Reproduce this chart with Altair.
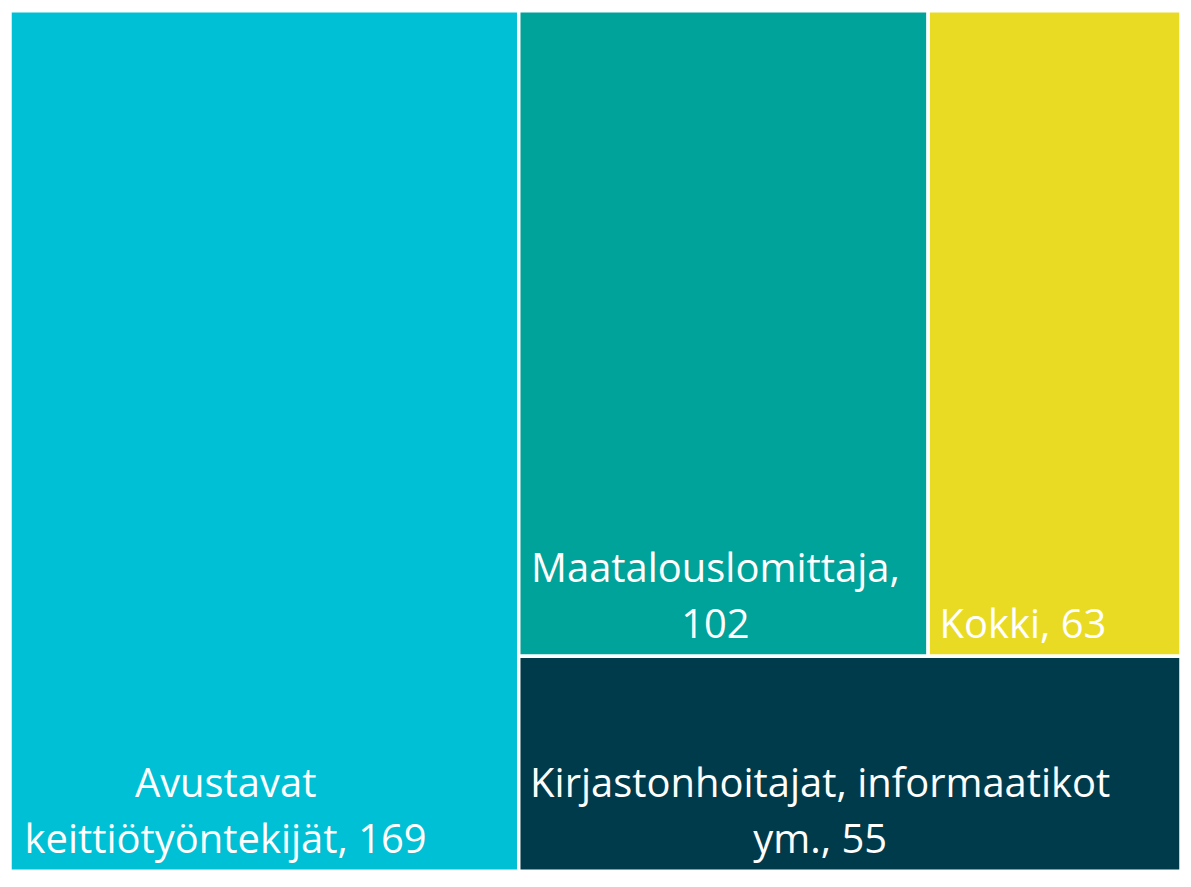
import altair as alt
import pandas as pd

# ---- data ----
names = ["Avustavat keittiötyöntekijät", "Maatalouslomittaja", "Kokki", "Kirjastonhoitajat, informaatikot ym."]
values = [169, 102, 63, 55]
label_lines = [
    ["Avustavat", "keittiötyöntekijät, 169"],
    ["Maatalouslomittaja,", "102"],
    ["Kokki, 63"],
    ["Kirjastonhoitajat, informaatikot", "ym., 55"],
]
colors = ["#00C0D5", "#00A39A", "#E9DB23", "#003B4B"]

# ---- layout params ----
W, H = 1173, 862
FS = 40
LH = 56
PAD = 10
BOTTOM_PAD = 18

# treemap layout (first item takes a full-height column, the rest in rows)
total = sum(values)
rest = sum(values[1:])
x_left = values[0] / total
top_sum = values[1] + values[2]
y_split = values[3] / rest
x_mid = x_left + (1 - x_left) * values[1] / top_sum
rects = [
    (0.0, x_left, 0.0, 1.0),
    (x_left, x_mid, y_split, 1.0),
    (x_mid, 1.0, y_split, 1.0),
    (x_left, 1.0, 0.0, y_split),
]


def est_width(s, fs):
    w = 0.0
    for ch in s:
        if ch in "ijl.,;:' ":
            w += 0.26
        elif ch in "rtf":
            w += 0.38
        elif ch in "mw":
            w += 0.88
        elif ch in "MW":
            w += 0.9
        elif ch.isupper():
            w += 0.62
        else:
            w += 0.57
    return w * fs


rows = []
for i, n in enumerate(names):
    x0, x1, y0, y1 = rects[i]
    lines = label_lines[i]
    bw = max(est_width(l, FS) for l in lines)
    tx = x0 + (PAD + bw / 2) / W
    ty = y0 + (BOTTOM_PAD + (len(lines) - 1) * LH) / H
    rows.append(dict(name=n, value=values[i], x0=x0, x1=x1, y0=y0, y1=y1,
                     tx=tx, ty=ty, label="\n".join(lines)))
df = pd.DataFrame(rows)

xs = alt.Scale(domain=[0, 1], nice=False, zero=False)
ys = alt.Scale(domain=[0, 1], nice=False, zero=False)
col = alt.Scale(domain=names, range=colors)

rect = alt.Chart(df).mark_rect(stroke="white", strokeWidth=3.5).encode(
    x=alt.X("x0:Q", scale=xs, axis=None),
    x2="x1:Q",
    y=alt.Y("y0:Q", scale=ys, axis=None),
    y2="y1:Q",
    color=alt.Color("name:N", scale=col, legend=None),
    tooltip=["name:N", "value:Q"],
)

text = alt.Chart(df).mark_text(
    align="center", baseline="alphabetic", lineBreak="\n", color="white",
    font="Open Sans", fontSize=FS, lineHeight=LH,
).encode(
    x=alt.X("tx:Q", scale=xs),
    y=alt.Y("ty:Q", scale=ys),
    text="label:N",
)

chart = (rect + text).properties(
    width=W, height=H, padding=0, background="white",
).configure_view(stroke="#cccccc", strokeWidth=1.5)

chart.save("out.html", embed_options={"renderer": "svg", "actions": False})
